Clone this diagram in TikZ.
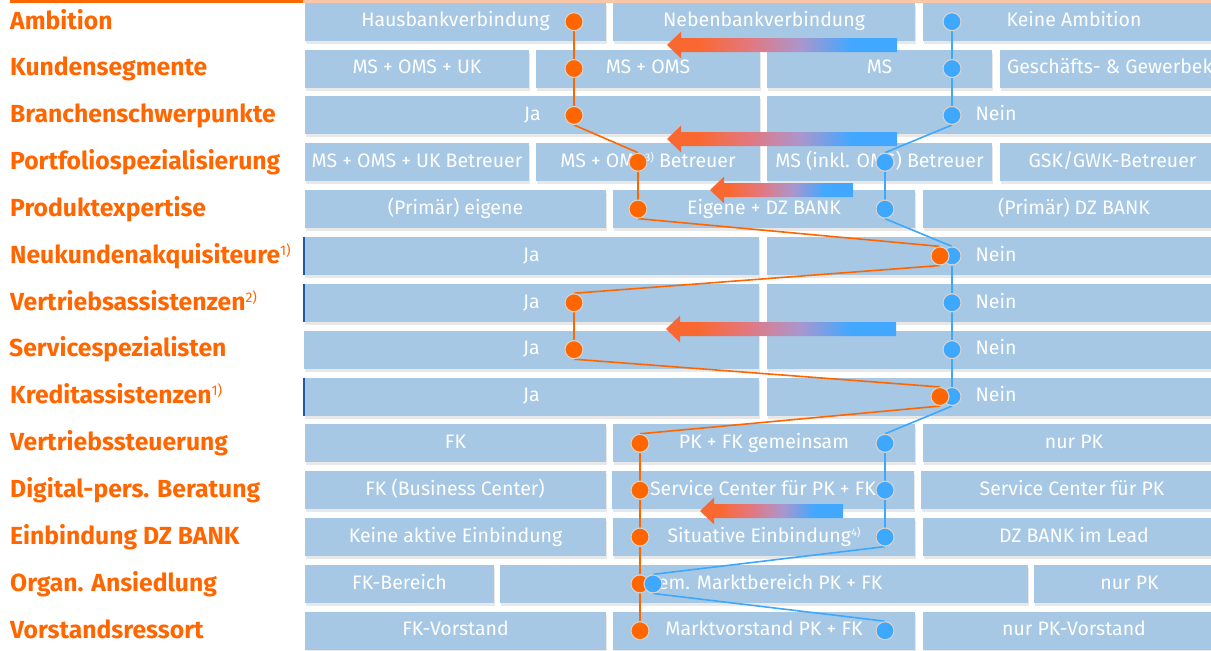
\documentclass[tikz,border=0pt]{standalone}
\usepackage{fontspec}
\setmainfont{Fira Sans}
\usetikzlibrary{shadows}
\definecolor{boxblue}{RGB}{166,200,228}
\definecolor{labor}{RGB}{255,102,0}
\definecolor{dotor}{RGB}{255,102,0}
\definecolor{dotbl}{RGB}{62,168,255}
\definecolor{dotgray}{RGB}{214,210,206}
\definecolor{peach}{RGB}{249,198,168}
\definecolor{edgeblue}{RGB}{30,90,160}
\definecolor{arrOr}{RGB}{250,104,50}
\definecolor{arrPk}{RGB}{226,120,128}
\definecolor{arrPu}{RGB}{170,150,205}
\definecolor{arrBl}{RGB}{66,168,255}
\pgfdeclarehorizontalshading{arrgrad}{100bp}{color(0bp)=(arrOr); color(25bp)=(arrOr); color(32bp)=(arrOr); color(43bp)=(arrPk); color(54bp)=(arrPu); color(65bp)=(arrBl); color(100bp)=(arrBl)}
\pgfdeclarelayer{bg}
\pgfdeclarelayer{ln}
\pgfsetlayers{bg,ln,main}
\newcommand\bt[1]{\makebox[0pt][c]{#1}}
\newcommand\mysupL[1]{\raisebox{8pt}{\fontsize{14}{14}\selectfont\mdseries #1}}
\newcommand\mysupB[1]{\raisebox{6pt}{\fontsize{11}{11}\selectfont #1}}
\newcommand\gradarrow[3]{%
  \shade[shading=arrgrad] (#1,#2) -- ++(14,-13.3) -- ++(0,6.3) -- (#3,#2-7) -- (#3,#2+7) -- (#1+14,#2+7) -- ++(0,6.3) -- cycle;}
\tikzset{
  box/.style={fill=boxblue, text=white, minimum height=38pt, inner sep=0pt, outer sep=0pt,
    font=\fontsize{19.5}{19.5}\selectfont, text height=15pt, text depth=4.6pt,
    drop shadow={shadow xshift=1.2pt, shadow yshift=-3pt, opacity=0.18}},
  lab/.style={anchor=base west, text=labor, inner sep=0pt, font=\fontsize{24.7}{24.7}\selectfont\bfseries},
  dot/.style={circle, minimum size=18pt, inner sep=0pt, draw=dotgray, line width=1.1pt},
  odot/.style={dot, fill=dotor},
  bdot/.style={dot, fill=dotbl},
  oline/.style={draw=dotor, line width=1.6pt},
  bline/.style={draw=dotbl, line width=1.6pt},
  edgeline/.style={draw=edgeblue, line width=1.4pt}
}
\begin{document}
\begin{tikzpicture}[x=1pt,y=-1pt]
\useasboundingbox (0,0) rectangle (1211,651);
% top rules
\draw[draw=peach, line width=2.6pt] (303,1.3) -- (1211,1.3);
\draw[draw=labor, line width=2.6pt] (10,1.3) -- (303,1.3);
% labels
\node[lab] (l1) at (10,29.0) {Ambition};
\node[lab] (l2) at (10,75.85) {Kundensegmente};
\node[lab] (l3) at (10,122.7) {Branchenschwerpunkte};
\node[lab] (l4) at (10,169.55) {Portfoliospezialisierung};
\node[lab] (l5) at (10,216.4) {Produktexpertise};
\node[lab] (l6) at (10,263.25) {Neukundenakquisiteure\mysupL{1)}};
\node[lab] (l7) at (10,310.1) {Vertriebsassistenzen\mysupL{2)}};
\node[lab] (l8) at (9,356.95) {Servicespezialisten};
\node[lab] (l9) at (10,403.8) {Kreditassistenzen\mysupL{1)}};
\node[lab] (l10) at (10,450.65) {Vertriebssteuerung};
\node[lab] (l11) at (10,497.5) {Digital-pers. Beratung};
\node[lab] (l12) at (10,544.35) {Einbindung DZ BANK};
\node[lab] (l13) at (10,591.2) {Organ. Ansiedlung};
\node[lab] (l14) at (10,638.05) {Vorstandsressort};
\begin{pgfonlayer}{bg}
% row 1
\node[box, minimum width=301pt] (r1a) at (455.5,21.7) {\bt{Hausbankverbindung}};
\node[box, minimum width=302pt] (r1b) at (764,21.7) {\bt{Nebenbankverbindung}};
\node[box, minimum width=302pt] (r1c) at (1074,21.7) {\bt{Keine Ambition}};
% row 2
\node[box, minimum width=224pt] (r2a) at (417,68.55) {\bt{MS + OMS + UK}};
\node[box, minimum width=224pt] (r2b) at (648,68.55) {\bt{MS + OMS}};
\node[box, minimum width=225pt] (r2c) at (879.5,68.55) {\bt{MS}};
\node[box, minimum width=225pt] (r2d) at (1112.5,68.55) {\makebox[0pt][l]{\hspace{-105.5pt}Geschäfts- \& Gewerbekunden}};
% row 3
\node[box, minimum width=455pt] (r3a) at (532.5,115.4) {\bt{Ja}};
\node[box, minimum width=458pt] (r3b) at (996,115.4) {\bt{Nein}};
% row 4
\node[box, minimum width=224pt] (r4a) at (417,162.25) {\bt{MS + OMS + UK Betreuer}};
\node[box, minimum width=224pt] (r4b) at (648,162.25) {\bt{MS + OMS\mysupB{3)} Betreuer}};
\node[box, minimum width=225pt] (r4c) at (879.5,162.25) {\bt{MS (inkl. OMS) Betreuer}};
\node[box, minimum width=225pt] (r4d) at (1112.5,162.25) {\bt{GSK/GWK-Betreuer}};
% row 5
\node[box, minimum width=301pt] (r5a) at (455.5,209.1) {\bt{(Primär) eigene}};
\node[box, minimum width=302pt] (r5b) at (764,209.1) {\bt{Eigene + DZ BANK}};
\node[box, minimum width=302pt] (r5c) at (1074,209.1) {\bt{(Primär) DZ BANK}};
% rows 6-9
\node[box, minimum width=455pt] (r6a) at (531.5,255.95) {\bt{Ja}};
\node[box, minimum width=458pt] (r6b) at (996,255.95) {\bt{Nein}};
\node[box, minimum width=455pt] (r7a) at (531.5,302.8) {\bt{Ja}};
\node[box, minimum width=458pt] (r7b) at (996,302.8) {\bt{Nein}};
\node[box, minimum width=455pt] (r8a) at (531.5,349.65) {\bt{Ja}};
\node[box, minimum width=458pt] (r8b) at (996,349.65) {\bt{Nein}};
\node[box, minimum width=455pt] (r9a) at (531.5,396.5) {\bt{Ja}};
\node[box, minimum width=458pt] (r9b) at (996,396.5) {\bt{Nein}};
\draw[edgeline] (r6a.north west) -- (r6a.south west);
\draw[edgeline] (r7a.north west) -- (r7a.south west);
\draw[edgeline] (r9a.north west) -- (r9a.south west);
% row 10
\node[box, minimum width=301pt] (r10a) at (455.5,443.35) {\bt{FK}};
\node[box, minimum width=302pt] (r10b) at (764,443.35) {\bt{PK + FK gemeinsam}};
\node[box, minimum width=302pt] (r10c) at (1074,443.35) {\bt{nur PK}};
% row 11
\node[box, minimum width=301pt] (r11a) at (455,490.2) {\bt{FK (Business Center)}};
\node[box, minimum width=302pt] (r11b) at (763,490.2) {\bt{Service Center für PK + FK}};
\node[box, minimum width=302pt] (r11c) at (1072,490.2) {\bt{Service Center für PK}};
% row 12
\node[box, minimum width=301pt] (r12a) at (455.5,537.05) {\bt{Keine aktive Einbindung}};
\node[box, minimum width=302pt] (r12b) at (764,537.05) {\bt{Situative Einbindung\mysupB{4)}}};
\node[box, minimum width=302pt] (r12c) at (1074,537.05) {\bt{DZ BANK im Lead}};
% row 13
\node[box, minimum width=189pt] (r13a) at (399.5,583.9) {\bt{FK-Bereich}};
\node[box, minimum width=528pt] (r13b) at (764,583.9) {\bt{Gem. Marktbereich PK + FK}};
\node[box, minimum width=191pt] (r13c) at (1129.5,583.9) {\bt{nur PK}};
% row 14
\node[box, minimum width=301pt] (r14a) at (455.5,630.75) {\bt{FK-Vorstand}};
\node[box, minimum width=302pt] (r14b) at (764,630.75) {\bt{Marktvorstand PK + FK}};
\node[box, minimum width=302pt] (r14c) at (1074,630.75) {\bt{nur PK-Vorstand}};
\end{pgfonlayer}
% gradient arrows
\begin{pgfonlayer}{ln}
\gradarrow{667}{45}{897}
\gradarrow{667}{139}{897}
\gradarrow{710}{190}{853}
\gradarrow{666}{329}{896}
\gradarrow{700}{511}{843}
\end{pgfonlayer}
% blue dots
\node[bdot] (b1) at (952,21.7) {};
\node[bdot] (b2) at (952,68.55) {};
\node[bdot] (b3) at (952,115.4) {};
\node[bdot] (b4) at (885,162.25) {};
\node[bdot] (b5) at (885,209.1) {};
\node[bdot] (b6) at (952,255.95) {};
\node[bdot] (b7) at (952,302.8) {};
\node[bdot] (b8) at (952,349.65) {};
\node[bdot] (b9) at (952,396.5) {};
\node[bdot] (b10) at (885,443.35) {};
\node[bdot] (b11) at (885,490.2) {};
\node[bdot] (b12) at (885,537.05) {};
\node[bdot] (b14) at (885,630.75) {};
% orange dots
\node[odot] (o1) at (574,21.7) {};
\node[odot] (o2) at (574,68.55) {};
\node[odot] (o3) at (574,115.4) {};
\node[odot] (o4) at (638,162.25) {};
\node[odot] (o5) at (638,209.1) {};
\node[odot] (o6) at (940,255.95) {};
\node[odot] (o7) at (574,302.8) {};
\node[odot] (o8) at (574,349.65) {};
\node[odot] (o9) at (940,396.5) {};
\node[odot] (o10) at (640,443.35) {};
\node[odot] (o11) at (640,490.2) {};
\node[odot] (o12) at (640,537.05) {};
\node[odot] (o13) at (640,583.9) {};
\node[odot] (o14) at (640,630.75) {};
\node[bdot] (b13) at (653,583.9) {};
% connectors
\begin{pgfonlayer}{ln}
\draw[oline] (o1.south) -- (o2.north);
\draw[oline] (o2.south) -- (o3.north);
\draw[oline] (o3.south) -- (o4.north);
\draw[oline] (o4.south) -- (o5.north);
\draw[oline] (o5.south) -- (o6.north);
\draw[oline] (o6.south) -- (o7.north);
\draw[oline] (o7.south) -- (o8.north);
\draw[oline] (o8.south) -- (o9.north);
\draw[oline] (o9.south) -- (o10.north);
\draw[oline] (o10.south) -- (o11.north);
\draw[oline] (o11.south) -- (o12.north);
\draw[oline] (o12.south) -- (o13.north);
\draw[oline] (o13.south) -- (o14.north);
\draw[bline] (b1.south) -- (b2.north);
\draw[bline] (b2.south) -- (b3.north);
\draw[bline] (b3.south) -- (b4.north);
\draw[bline] (b4.south) -- (b5.north);
\draw[bline] (b5.south) -- (b6.north);
\draw[bline] (b6.south) -- (b7.north);
\draw[bline] (b7.south) -- (b8.north);
\draw[bline] (b8.south) -- (b9.north);
\draw[bline] (b9.south) -- (b10.north);
\draw[bline] (b10.south) -- (b11.north);
\draw[bline] (b11.south) -- (b12.north);
\draw[bline] (b12.south) -- (b13.north);
\draw[bline] (b13.south) -- (b14.north);
\end{pgfonlayer}
\end{tikzpicture}
\end{document}
